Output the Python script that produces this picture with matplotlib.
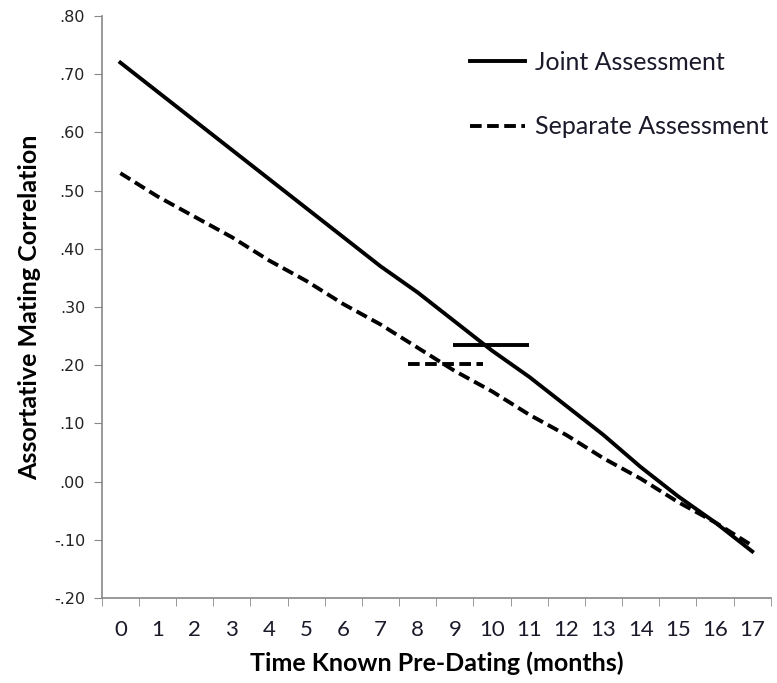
import matplotlib.pyplot as plt
import numpy as np

# months known before dating
months = list(range(18))
month_labels = [str(m) for m in months]

joint = [0.72, 0.67, 0.62, 0.57, 0.52, 0.47, 0.42, 0.37, 0.325, 0.275,
         0.225, 0.18, 0.13, 0.08, 0.025, -0.025, -0.07, -0.12]
separate = [0.53, 0.49, 0.455, 0.42, 0.38, 0.345, 0.305, 0.27, 0.23, 0.19,
            0.155, 0.115, 0.08, 0.04, 0.005, -0.035, -0.07, -0.11]

# short horizontal marks (mean levels)
joint_mark = 0.235
joint_mark_span = [8.95, 11.0]
separate_mark = 0.202
separate_mark_span = [7.75, 9.75]

yticks = [-0.2, -0.1, 0.0, 0.1, 0.2, 0.3, 0.4, 0.5, 0.6, 0.7, 0.8]
ytick_labels = ['-.20', '-.10', '.00', '.10', '.20', '.30', '.40', '.50', '.60', '.70', '.80']


def main():
    fig = plt.figure(figsize=(7.77, 6.83), dpi=100)
    ax = fig.add_axes([0.131, 0.1245, 0.861, 0.852])

    lw = 2.8
    dash = (0, (3.0, 1.4))
    ax.plot(months, joint, color='black', linewidth=lw, label='Joint Assessment')
    ax.plot(months, separate, color='black', linewidth=lw, linestyle=dash,
            label='Separate Assessment')
    ax.hlines(joint_mark, *joint_mark_span, color='black', linewidth=lw)
    ax.hlines(separate_mark, *separate_mark_span, color='black', linewidth=lw,
              linestyle=dash)

    # Formatting
    ax.set_xlim(-0.5, 17.5)
    ax.set_ylim(-0.2, 0.8)
    ax.set_yticks(yticks)
    ax.set_yticklabels(ytick_labels, fontsize=11.5, color='#222222', family='DejaVu Sans')
    ax.set_xticks(months)
    ax.set_xticklabels(month_labels, fontsize=16, color='#1a1a2a', family='Lato')
    ax.set_xticks(np.arange(-0.5, 18, 1), minor=True)
    ax.tick_params(axis='x', which='major', length=0, pad=16)
    ax.tick_params(axis='x', which='minor', length=6, color='#888888')
    ax.tick_params(axis='y', length=6, color='#888888', pad=6)

    for side in ['top', 'right']:
        ax.spines[side].set_visible(False)
    for side in ['left', 'bottom']:
        ax.spines[side].set_color('#888888')
        ax.spines[side].set_linewidth(1.2)

    ax.set_xlabel('Time Known Pre-Dating (months)', fontsize=18, fontweight='bold',
                  family='Lato', labelpad=8)
    ax.set_ylabel('Assortative Mating Correlation', fontsize=18, fontweight='bold',
                  family='Lato', labelpad=9)

    leg = fig.legend(loc='upper left', bbox_to_anchor=(0.576, 0.958), frameon=False,
                     handlelength=2.2, handletextpad=0.4, labelspacing=1.65,
                     prop={'family': 'Lato', 'size': 18})
    for text in leg.get_texts():
        text.set_color('#1a1a2a')

    fig.savefig('out.png', dpi=100)


if __name__ == "__main__":
    main()
